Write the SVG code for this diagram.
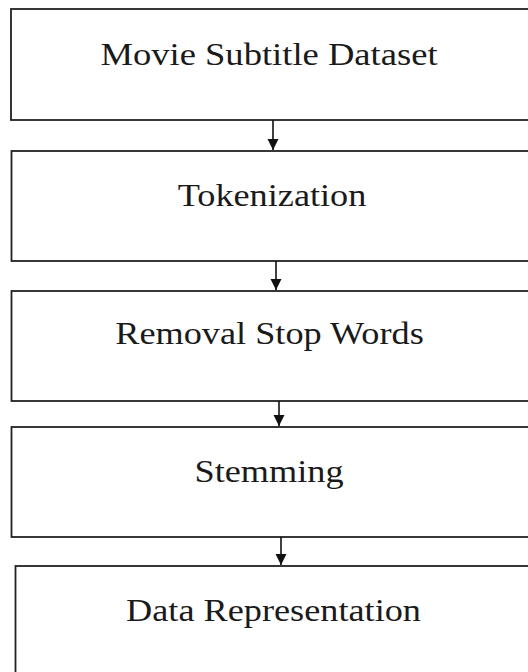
<svg xmlns="http://www.w3.org/2000/svg" width="528" height="672" viewBox="0 0 528 672">
<defs>
<style>
.box{fill:#fff;stroke:#222;stroke-width:1.8}
.lbl{font-family:"Liberation Serif","Times New Roman",serif;font-size:31px;fill:#1a1a1a;text-anchor:middle}
.conn{stroke:#111;stroke-width:1.6;fill:none}
</style>
<marker id="ah" markerWidth="11" markerHeight="12" refX="11" refY="5.5" orient="auto" markerUnits="userSpaceOnUse">
<path d="M0,0 L11,5.5 L0,11 Z" fill="#111"/>
</marker>
</defs>
<rect width="528" height="672" fill="#fff"/>
<g id="n1"><rect class="box" x="11" y="9" width="540" height="111"/><text class="lbl" transform="translate(269,65) scale(1.18,1)">Movie Subtitle Dataset</text></g>
<g id="n2"><rect class="box" x="11.5" y="151" width="540" height="110"/><text class="lbl" transform="translate(272,206) scale(1.17,1)">Tokenization</text></g>
<g id="n3"><rect class="box" x="11.5" y="291" width="540" height="110"/><text class="lbl" transform="translate(269.5,344) scale(1.17,1)">Removal Stop Words</text></g>
<g id="n4"><rect class="box" x="11.5" y="427" width="540" height="110"/><text class="lbl" transform="translate(269,482) scale(1.17,1)">Stemming</text></g>
<g id="n5"><rect class="box" x="15.5" y="566" width="540" height="120"/><text class="lbl" transform="translate(273.5,621) scale(1.17,1)">Data Representation</text></g>
<g id="connectors">
<line class="conn" x1="273" y1="120" x2="273" y2="150" marker-end="url(#ah)"/>
<line class="conn" x1="276" y1="261" x2="276" y2="290" marker-end="url(#ah)"/>
<line class="conn" x1="279" y1="401" x2="279" y2="426" marker-end="url(#ah)"/>
<line class="conn" x1="281" y1="537" x2="281" y2="565" marker-end="url(#ah)"/>
</g>
</svg>
